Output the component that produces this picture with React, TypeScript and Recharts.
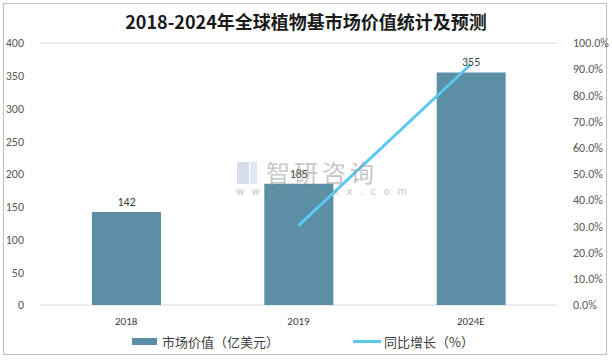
import React from "react";
import { ComposedChart, Bar, Line, XAxis, YAxis, CartesianGrid, LabelList } from "recharts";

const years = ["2018", "2019", "2024E"];
const marketValue = [142, 185, 355];
const growthRate = [null, 30.3, 91.9];
const leftTicks = [0, 50, 100, 150, 200, 250, 300, 350, 400];
const rightTicks = [0, 10, 20, 30, 40, 50, 60, 70, 80, 90, 100];

const BAR_COLOR = "#5b8fa6";
const LINE_COLOR = "#5bc8f0";
const FONT = "Calibri, Carlito, 'Noto Sans CJK SC', 'Noto Sans', sans-serif";

const data = years.map((y, i) => ({ year: y, value: marketValue[i], growth: growthRate[i] }));

export default function App() {
  return (
    <div style={{ position: "absolute", left: 0, top: 0, width: 612, height: 360, background: "#fff", fontFamily: FONT }}>
      <div
        style={{
          position: "absolute", left: 3, top: 3, width: 604, height: 352,
          border: "1px solid #bfbfbf", boxSizing: "border-box",
        }}
      />
      <div
        style={{
          position: "absolute", left: 0, top: 8, width: 612, textAlign: "center",
          fontSize: 18, fontWeight: "bold", color: "#1a1a1a", fontFamily: "'Noto Sans CJK SC', sans-serif",
        }}
      >
        2018-2024年全球植物基市场价值统计及预测
      </div>

      <div style={{ position: "absolute", left: 0, top: 0 }}>
        <ComposedChart width={612} height={360} data={data} margin={{ top: 43, right: 0, bottom: 30, left: 0 }}>
          <CartesianGrid vertical={false} stroke="#d9d9d9" />
          <XAxis
            dataKey="year"
            axisLine={false}
            tickLine={false}
            height={25}
            tick={{ fontSize: 11, fill: "#404040", fontFamily: FONT }}
            tickMargin={6}
          />
          <YAxis
            yAxisId="left"
            domain={[0, 400]}
            ticks={leftTicks}
            width={40}
            axisLine={false}
            tickLine={false}
            tick={{ fontSize: 12, fill: "#595959", fontFamily: FONT }}
            tickMargin={10}
          />
          <YAxis
            yAxisId="right"
            orientation="right"
            domain={[0, 100]}
            ticks={rightTicks}
            width={55}
            axisLine={false}
            tickLine={false}
            tickFormatter={(v) => `${Number(v).toFixed(1)}%`}
            tick={{ fontSize: 12, fill: "#595959", fontFamily: FONT }}
            tickMargin={10}
          />
          <Bar yAxisId="left" dataKey="value" fill={BAR_COLOR} barSize={69} isAnimationActive={false}>
            <LabelList dataKey="value" position="top" fill="#404040" fontSize={12} offset={6} />
          </Bar>
          <Line
            yAxisId="right"
            dataKey="growth"
            stroke={LINE_COLOR}
            strokeWidth={3}
            dot={false}
            isAnimationActive={false}
          />
        </ComposedChart>
      </div>

      {/* watermark */}
      <div style={{ position: "absolute", left: 237, top: 162, width: 20, height: 22, opacity: 0.35 }}>
        <div style={{ position: "absolute", left: 0, top: 0, width: 12, height: 22, background: "#8fa3c8" }} />
        <div style={{ position: "absolute", left: 13, top: 0, width: 7, height: 22, background: "#9fc0e0" }} />
      </div>
      <div style={{ position: "absolute", left: 266, top: 154, color: "#9a9a9a", opacity: 0.55, fontSize: 24, fontFamily: "'Noto Sans CJK SC', sans-serif", letterSpacing: 4, pointerEvents: "none" }}>
        智研咨询
      </div>
      <div style={{ position: "absolute", left: 236, top: 186, color: "#9a9a9a", opacity: 0.55, fontSize: 10, letterSpacing: 7.5, fontFamily: "'DejaVu Sans', sans-serif", pointerEvents: "none" }}>
        www.chyxx.com
      </div>

      {/* legend */}
      <div style={{ position: "absolute", left: 132, top: 332, display: "flex", alignItems: "center", fontSize: 13, color: "#404040", fontFamily: "'Noto Sans CJK SC', sans-serif" }}>
        <span style={{ display: "inline-block", width: 25, height: 7, background: BAR_COLOR, marginRight: 5 }} />
        市场价值（亿美元）
      </div>
      <div style={{ position: "absolute", left: 353, top: 332, display: "flex", alignItems: "center", fontSize: 13, color: "#404040", fontFamily: "'Noto Sans CJK SC', sans-serif" }}>
        <span style={{ display: "inline-block", width: 28, height: 3, background: LINE_COLOR, marginRight: 3 }} />
        同比增长（%）
      </div>
    </div>
  );
}
